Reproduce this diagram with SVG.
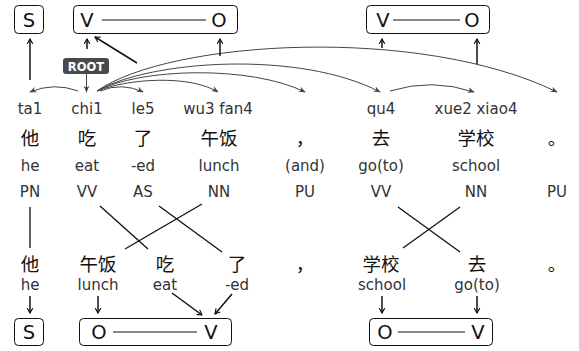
<svg xmlns="http://www.w3.org/2000/svg" width="579" height="351" viewBox="0 0 579 351">
<style>
.t{font-family:"DejaVu Sans",sans-serif;font-size:15px;fill:#333;text-anchor:middle}
.c{font-family:"Noto Sans CJK SC","DejaVu Sans",sans-serif;font-size:18.5px;fill:#111;text-anchor:middle}
.b{font-family:"DejaVu Sans",sans-serif;font-size:19.5px;fill:#111;text-anchor:middle}
.box{fill:none;stroke:#111;stroke-width:1}
.arc{fill:none;stroke:#444;stroke-width:1;marker-end:url(#st)}
.up{fill:none;stroke:#111;stroke-width:1.5;marker-end:url(#ar)}
.x{fill:none;stroke:#111;stroke-width:1.3}
.dash{stroke:#111;stroke-width:1}
</style>
<defs>
<marker id="st" viewBox="0 0 10 10" refX="9" refY="5" markerWidth="7" markerHeight="7" markerUnits="userSpaceOnUse" orient="auto"><path d="M0,1 L10,5 L0,9 L3,5 Z" fill="#444"/></marker>
<marker id="ar" viewBox="0 0 10 10" refX="9" refY="5" markerWidth="7" markerHeight="7" markerUnits="userSpaceOnUse" orient="auto"><path d="M2,1 L9,5 L2,9" fill="none" stroke="#111" stroke-width="1.6"/></marker>
</defs>

<g id="top-S"><rect class="box" x="14.5" y="5.5" width="29" height="28" rx="4"/><text class="b" x="29" y="27">S</text></g>
<g id="top-VO1"><rect class="box" x="73.5" y="5.5" width="164" height="28" rx="4"/><text class="b" x="87" y="27">V</text><line class="dash" x1="102" y1="20" x2="206" y2="20"/><text class="b" x="219" y="27">O</text></g>
<g id="top-VO2"><rect class="box" x="366.5" y="5.5" width="123" height="28" rx="4"/><text class="b" x="383" y="27">V</text><line class="dash" x1="393" y1="20" x2="460" y2="20"/><text class="b" x="472" y="27">O</text></g>

<g id="root"><rect x="63" y="58" width="46" height="16" rx="3" fill="#4a4a4a"/><text x="86" y="70.5" font-family="DejaVu Sans,sans-serif" font-size="11.5" font-weight="bold" fill="#fff" text-anchor="middle">ROOT</text></g>

<g id="pinyin">
<text class="t" x="30" y="114">ta1</text>
<text class="t" x="87" y="114">chi1</text>
<text class="t" x="143" y="114">le5</text>
<text class="t" x="218" y="114">wu3 fan4</text>
<text class="t" x="381" y="114">qu4</text>
<text class="t" x="476" y="114">xue2 xiao4</text>
</g>
<g id="hanzi">
<text class="c" x="30" y="145">他</text>
<text class="c" x="87" y="145">吃</text>
<text class="c" x="143" y="145">了</text>
<text class="c" x="219" y="145">午饭</text>
<text class="c" x="305" y="145">，</text>
<text class="c" x="381" y="145">去</text>
<text class="c" x="476" y="145">学校</text>
<text class="c" x="557" y="145">。</text>
</g>
<g id="gloss">
<text class="t" x="30" y="171">he</text>
<text class="t" x="87" y="171">eat</text>
<text class="t" x="143" y="171">-ed</text>
<text class="t" x="219" y="171">lunch</text>
<text class="t" x="305" y="171">(and)</text>
<text class="t" x="381" y="171">go(to)</text>
<text class="t" x="476" y="171">school</text>
</g>
<g id="pos">
<text class="t" x="30" y="197">PN</text>
<text class="t" x="87" y="197">VV</text>
<text class="t" x="143" y="197">AS</text>
<text class="t" x="219" y="197">NN</text>
<text class="t" x="305" y="197">PU</text>
<text class="t" x="381" y="197">VV</text>
<text class="t" x="476" y="197">NN</text>
<text class="t" x="557" y="197">PU</text>
</g>

<g id="bottom-hanzi">
<text class="c" x="30" y="271">他</text>
<text class="c" x="98" y="271">午饭</text>
<text class="c" x="165" y="271">吃</text>
<text class="c" x="237" y="271">了</text>
<text class="c" x="305" y="271">，</text>
<text class="c" x="381" y="271">学校</text>
<text class="c" x="477" y="271">去</text>
<text class="c" x="557" y="271">。</text>
</g>
<g id="bottom-gloss">
<text class="t" x="30" y="290">he</text>
<text class="t" x="98" y="290">lunch</text>
<text class="t" x="165" y="290">eat</text>
<text class="t" x="237" y="290">-ed</text>
<text class="t" x="382" y="290">school</text>
<text class="t" x="477" y="290">go(to)</text>
</g>

<g id="bot-S"><rect class="box" x="14.5" y="318.5" width="29" height="27" rx="4"/><text class="b" x="29" y="339">S</text></g>
<g id="bot-OV1"><rect class="box" x="79.5" y="318.5" width="152" height="27" rx="4"/><text class="b" x="99" y="339">O</text><line class="dash" x1="113" y1="332" x2="197" y2="332"/><text class="b" x="211" y="339">V</text></g>
<g id="bot-OV2"><rect class="box" x="369.5" y="318.5" width="123" height="27" rx="4"/><text class="b" x="385" y="339">O</text><line class="dash" x1="398" y1="332" x2="465" y2="332"/><text class="b" x="478" y="339">V</text></g>

<g id="connectors">
<path class="arc" d="M78,91 Q54,82 30,92"/>
<path class="arc" d="M100,91 Q122,82 143,92"/>
<path class="arc" d="M97,91 C130,78 190,75 218,92"/>
<path class="arc" d="M97,91 C140,68 250,65 305,92"/>
<path class="arc" d="M97,91 C150,60 300,50 380,92"/>
<path class="arc" d="M97,91 C170,40 420,25 557,92"/>
<path class="arc" d="M390,91 Q432,78 474,92"/>
<path class="arc" d="M86.5,74 L86.5,92"/>

<path class="up" d="M30,80 L30,39"/>
<path class="up" d="M87,49 L87,39"/>
<path class="up" d="M137,63 L95,37"/>
<path class="up" d="M220,56 L220,39"/>
<path class="up" d="M382,48 L382,39"/>
<path class="up" d="M477,64 L477,39"/>

<line class="x" x1="30" y1="207" x2="30" y2="248"/>
<line class="x" x1="100" y1="206" x2="148" y2="249"/>
<line class="x" x1="159" y1="206" x2="222" y2="252"/>
<line class="x" x1="202" y1="204" x2="125" y2="249"/>
<line class="x" x1="398" y1="207" x2="460" y2="252"/>
<line class="x" x1="460" y1="207" x2="403" y2="248"/>

<path class="up" d="M30,296 L30,313"/>
<path class="up" d="M98,296 L98,313"/>
<path class="up" d="M172,293 L202,315"/>
<path class="up" d="M232,294 L215,314"/>
<path class="up" d="M382,296 L382,313"/>
<path class="up" d="M477,296 L477,313"/>
</g>
</svg>
